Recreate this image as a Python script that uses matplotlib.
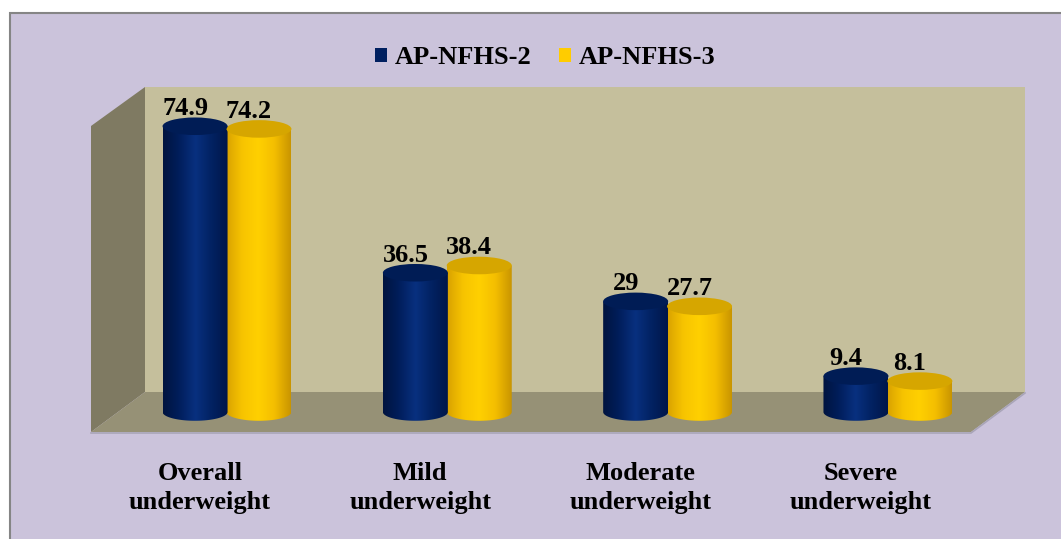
import numpy as np
import matplotlib
matplotlib.use("Agg")
import matplotlib.pyplot as plt
from matplotlib.patches import Polygon, Rectangle, Ellipse, Patch
from matplotlib.colors import LinearSegmentedColormap

categories = ["Overall\nunderweight", "Mild\nunderweight", "Moderate\nunderweight", "Severe\nunderweight"]
series_names = ["AP-NFHS-2", "AP-NFHS-3"]
nfhs2 = [74.9, 36.5, 29, 9.4]
nfhs3 = [74.2, 38.4, 27.7, 8.1]

W, H = 1061, 539
font = dict(family="Liberation Serif", weight="bold")

fig = plt.figure(figsize=(W / 100, H / 100), dpi=100)
fig.patch.set_facecolor("white")

# backdrop: chart area, walls and floor (drawn in pixel coordinates)
bg = fig.add_axes([0, 0, 1, 1], zorder=0)
bg.set_xlim(0, W)
bg.set_ylim(H, 0)
bg.axis("off")
bg.add_patch(Rectangle((10, 13), W, H, facecolor="#CBC3DB", edgecolor="#858585", lw=1.5))
bg.add_patch(Polygon([(145, 87), (1025, 87), (1025, 392), (145, 392)], closed=True,
                     facecolor="#C5BF9C", edgecolor="none"))
bg.add_patch(Polygon([(91, 126), (145, 87), (145, 392), (91, 432)], closed=True,
                     facecolor="#7F7A62", edgecolor="none"))
bg.add_patch(Polygon([(91, 432), (145, 392), (1025, 392), (971, 432)], closed=True,
                     facecolor="#969176", edgecolor="none"))
bg.plot([91, 971, 1025], [433, 433, 393], color="#A9A5B8", lw=1.2)

# data axes: x = category index, y = value
ax = fig.add_axes([0, 0, 1, 1], zorder=1)
ax.patch.set_alpha(0)
ax.axis("off")
xlim = (-227 / 220.3, (W - 227) / 220.3)
ylim = ((412 - H) / 3.815, 412 / 3.815)

bar_w = 0.295
offset = 0.145
ry = 2.3

blue_cmap = LinearSegmentedColormap.from_list(
    "blue", ["#00143F", "#011E5C", "#08307F", "#022262", "#00164A"])
gold_cmap = LinearSegmentedColormap.from_list(
    "gold", ["#D9A200", "#F7C400", "#FFD000", "#F4BE00", "#C99500"])


def cylinder(xc, value, cmap, top_color):
    x0, x1 = xc - bar_w / 2, xc + bar_w / 2
    t = np.linspace(np.pi, 2 * np.pi, 60)
    arc_x = xc + bar_w / 2 * np.cos(t)
    arc_y = ry * np.sin(t)
    outline = np.vstack([[x0, value], [x0, 0],
                         np.column_stack([arc_x, arc_y]),
                         [x1, 0], [x1, value]])
    body = Polygon(outline, closed=True, facecolor="none", edgecolor="none")
    ax.add_patch(body)
    grad = np.linspace(0, 1, 200).reshape(1, -1)
    im = ax.imshow(grad, cmap=cmap, extent=[x0, x1, -ry, value + ry],
                   aspect="auto", interpolation="bilinear", zorder=2)
    im.set_clip_path(body)
    ax.add_patch(Ellipse((xc, value), bar_w, 2 * ry, facecolor=top_color,
                         edgecolor="none", zorder=3))


x = np.arange(len(categories))
for i in x:
    cylinder(i + offset, nfhs3[i], gold_cmap, "#D6A600")
    cylinder(i - offset, nfhs2[i], blue_cmap, "#001C55")

for i in x:
    for dx, v in ((-offset, nfhs2[i]), (offset, nfhs3[i])):
        ax.text(i + dx - 0.045, v + ry + 0.6, f"{v:g}", ha="center", va="baseline",
                fontsize=19, color="black", zorder=5, **font)
    ax.text(i - 0.123, -19.9, categories[i], ha="center", va="center",
            linespacing=1.32, fontsize=19, color="black", **font)

handles = [Patch(facecolor="#002060", label=series_names[0]),
           Patch(facecolor="#FFCC00", label=series_names[1])]
ax.legend(handles=handles, loc="center", bbox_to_anchor=(545 / W, 1 - 58 / H),
          ncol=2, frameon=False, prop=dict(font, size=19), handlelength=0.45,
          handleheight=0.45, handletextpad=0.3, columnspacing=1.05, borderpad=0)

ax.set_xlim(*xlim)
ax.set_ylim(*ylim)

fig.savefig("out.png", dpi=100)
